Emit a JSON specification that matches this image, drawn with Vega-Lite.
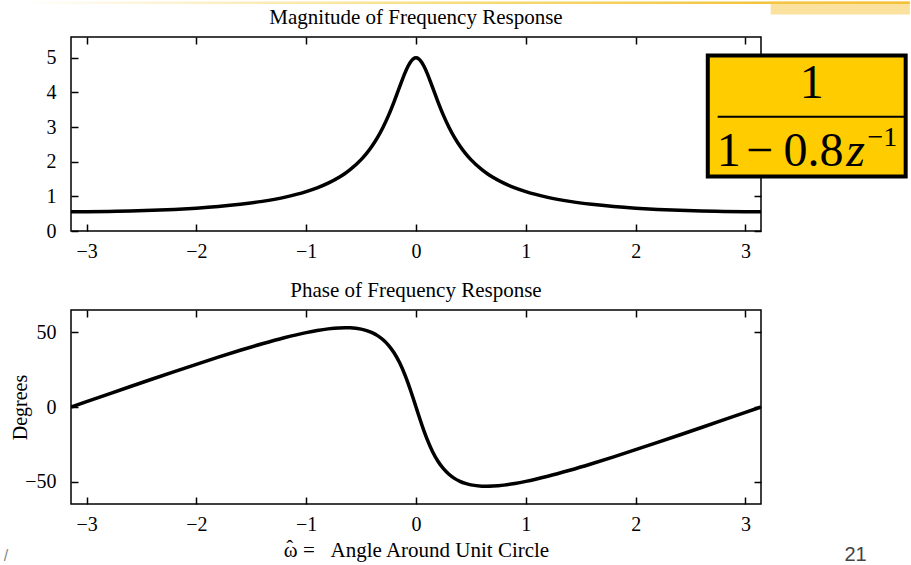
{
  "$schema": "https://vega.github.io/schema/vega-lite/v6.json",
  "background": "white",
  "padding": {"left": 2, "top": 0, "right": 0, "bottom": 0},
  "spacing": 17,
  "config": {
    "font": "Liberation Serif",
    "view": {"stroke": "black", "strokeWidth": 1.5},
    "axis": {
      "domain": false, "grid": false, "ticks": true,
      "tickColor": "black", "tickSize": 7, "tickWidth": 1.5, "offset": -7,
      "labelFont": "Liberation Serif", "labelFontSize": 20, "labelColor": "black",
      "labelFlush": false, "labelOverlap": false,
      "titleFont": "Liberation Serif", "titleFontSize": 20, "titleFontWeight": "normal", "titleColor": "black"
    },
    "axisX": {"labelPadding": 10},
    "axisY": {"labelPadding": 15},
    "title": {"font": "Liberation Serif", "fontSize": 21, "fontWeight": "normal", "color": "black", "anchor": "middle", "frame": "group", "offset": 10}
  },
  "data": {"values": [
    {"w": -3.14159, "mag": 0.5556, "phase": 0},
    {"w": -3.0, "mag": 0.5569, "phase": 3.61},
    {"w": -2.8, "mag": 0.5637, "phase": 8.69},
    {"w": -2.6, "mag": 0.5763, "phase": 13.75},
    {"w": -2.4, "mag": 0.5955, "phase": 18.77},
    {"w": -2.2, "mag": 0.6224, "phase": 23.74},
    {"w": -2.0, "mag": 0.6585, "phase": 28.62},
    {"w": -1.8, "mag": 0.7065, "phase": 33.39},
    {"w": -1.6, "mag": 0.77, "phase": 38.0},
    {"w": -1.4, "mag": 0.855, "phase": 42.37},
    {"w": -1.2, "mag": 0.9712, "phase": 46.4},
    {"w": -1.0, "mag": 1.1356, "phase": 49.86},
    {"w": -0.9, "mag": 1.2447, "phase": 51.26},
    {"w": -0.8, "mag": 1.3798, "phase": 52.36},
    {"w": -0.7, "mag": 1.55, "phase": 53.02},
    {"w": -0.6435, "mag": 1.6667, "phase": 53.13},
    {"w": -0.6, "mag": 1.7693, "phase": 53.05},
    {"w": -0.5, "mag": 2.059, "phase": 52.16},
    {"w": -0.45, "mag": 2.2401, "phase": 51.22},
    {"w": -0.4, "mag": 2.4522, "phase": 49.81},
    {"w": -0.35, "mag": 2.7017, "phase": 47.83},
    {"w": -0.3, "mag": 2.9953, "phase": 45.08},
    {"w": -0.25, "mag": 3.3382, "phase": 41.35},
    {"w": -0.2, "mag": 3.7295, "phase": 36.35},
    {"w": -0.15, "mag": 4.1535, "phase": 29.77},
    {"w": -0.1, "mag": 4.5647, "phase": 21.38},
    {"w": -0.075, "mag": 4.7405, "phase": 16.51},
    {"w": -0.05, "mag": 4.8795, "phase": 11.25},
    {"w": -0.025, "mag": 4.969, "phase": 5.7},
    {"w": 0, "mag": 5.0, "phase": 0},
    {"w": 0.025, "mag": 4.969, "phase": -5.7},
    {"w": 0.05, "mag": 4.8795, "phase": -11.25},
    {"w": 0.075, "mag": 4.7405, "phase": -16.51},
    {"w": 0.1, "mag": 4.5647, "phase": -21.38},
    {"w": 0.15, "mag": 4.1535, "phase": -29.77},
    {"w": 0.2, "mag": 3.7295, "phase": -36.35},
    {"w": 0.25, "mag": 3.3382, "phase": -41.35},
    {"w": 0.3, "mag": 2.9953, "phase": -45.08},
    {"w": 0.35, "mag": 2.7017, "phase": -47.83},
    {"w": 0.4, "mag": 2.4522, "phase": -49.81},
    {"w": 0.45, "mag": 2.2401, "phase": -51.22},
    {"w": 0.5, "mag": 2.059, "phase": -52.16},
    {"w": 0.6, "mag": 1.7693, "phase": -53.05},
    {"w": 0.6435, "mag": 1.6667, "phase": -53.13},
    {"w": 0.7, "mag": 1.55, "phase": -53.02},
    {"w": 0.8, "mag": 1.3798, "phase": -52.36},
    {"w": 0.9, "mag": 1.2447, "phase": -51.26},
    {"w": 1.0, "mag": 1.1356, "phase": -49.86},
    {"w": 1.2, "mag": 0.9712, "phase": -46.4},
    {"w": 1.4, "mag": 0.855, "phase": -42.37},
    {"w": 1.6, "mag": 0.77, "phase": -38.0},
    {"w": 1.8, "mag": 0.7065, "phase": -33.39},
    {"w": 2.0, "mag": 0.6585, "phase": -28.62},
    {"w": 2.2, "mag": 0.6224, "phase": -23.74},
    {"w": 2.4, "mag": 0.5955, "phase": -18.77},
    {"w": 2.6, "mag": 0.5763, "phase": -13.75},
    {"w": 2.8, "mag": 0.5637, "phase": -8.69},
    {"w": 3.0, "mag": 0.5569, "phase": -3.61},
    {"w": 3.14159, "mag": 0.5556, "phase": 0}
  ]},
  "vconcat": [
    {
      "width": 690, "height": 194,
      "title": {"text": "Magnitude of Frequency Response", "offset": -26.5},
      "resolve": {"axis": {"x": "independent", "y": "independent"}},
      "layer": [
        {
          "mark": {"type": "line", "color": "black", "strokeWidth": 3.5, "interpolate": "monotone", "clip": true},
          "encoding": {
            "x": {"field": "w", "type": "quantitative", "scale": {"domain": [-3.14159, 3.14159], "nice": false, "zero": false}, "axis": {"orient": "bottom", "values": [-3, -2, -1, 0, 1, 2, 3], "title": null}},
            "y": {"field": "mag", "type": "quantitative", "scale": {"domain": [0, 5.6], "nice": false}, "axis": {"orient": "left", "values": [0, 1, 2, 3, 4, 5], "title": null}}
          }
        },
        {
          "mark": {"type": "line", "strokeOpacity": 0},
          "encoding": {
            "x": {"field": "w", "type": "quantitative", "scale": {"domain": [-3.14159, 3.14159], "nice": false, "zero": false}, "axis": {"orient": "top", "values": [-3, -2, -1, 0, 1, 2, 3], "labels": false, "title": null}},
            "y": {"field": "mag", "type": "quantitative", "scale": {"domain": [0, 5.6], "nice": false}, "axis": {"orient": "right", "values": [0, 1, 2, 3, 4, 5], "labels": false, "title": null}}
          }
        },
        {
          "data": {"values": [{}]},
          "mark": {"type": "rect", "clip": false, "fill": {"gradient": "linear", "x1": 0, "x2": 1, "y1": 0, "y2": 0, "stops": [{"offset": 0, "color": "#ffffff"}, {"offset": 0.5, "color": "#f7dc7a"}, {"offset": 1, "color": "#f0b820"}]}},
          "encoding": {
            "x": {"datum": -3.62, "type": "quantitative", "scale": {"domain": [-3.14159, 3.14159]}, "axis": null},
            "x2": {"datum": 4.497},
            "y": {"datum": 6.625, "type": "quantitative", "scale": {"domain": [0, 5.6]}, "axis": null},
            "y2": {"datum": 6.555}
          }
        },
        {
          "data": {"values": [{}]},
          "mark": {"type": "rect", "clip": false, "fill": "#f5c94e", "opacity": 0.55},
          "encoding": {
            "x": {"datum": 3.23, "type": "quantitative", "scale": {"domain": [-3.14159, 3.14159]}, "axis": null},
            "x2": {"datum": 4.497},
            "y": {"datum": 6.625, "type": "quantitative", "scale": {"domain": [0, 5.6]}, "axis": null},
            "y2": {"datum": 6.25}
          }
        },
        {
          "data": {"values": [{}]},
          "mark": {"type": "rect", "clip": false, "fill": "#ffcc00", "stroke": "black", "strokeWidth": 4},
          "encoding": {
            "x": {"datum": 2.657, "type": "quantitative", "scale": {"domain": [-3.14159, 3.14159]}, "axis": null},
            "x2": {"datum": 4.459},
            "y": {"datum": 5.066, "type": "quantitative", "scale": {"domain": [0, 5.6]}, "axis": null},
            "y2": {"datum": 1.573}
          }
        },
        {
          "data": {"values": [{}]},
          "mark": {"type": "rule", "clip": false, "color": "black", "strokeWidth": 2},
          "encoding": {
            "x": {"datum": 2.747, "type": "quantitative", "scale": {"domain": [-3.14159, 3.14159]}, "axis": null},
            "x2": {"datum": 4.459},
            "y": {"datum": 3.296, "type": "quantitative", "scale": {"domain": [0, 5.6]}, "axis": null}
          }
        },
        {
          "data": {"values": [
            {"t": "1", "px": 3.604, "py": 3.825},
            {"t": "1", "px": 2.848, "py": 1.862},
            {"t": "\u2212", "px": 3.129, "py": 1.862},
            {"t": "0.8", "px": 3.62, "py": 1.862}
          ]},
          "mark": {"type": "text", "clip": false, "font": "Liberation Serif", "fontSize": 48, "color": "black", "align": "center", "baseline": "alphabetic"},
          "encoding": {
            "text": {"field": "t"},
            "x": {"field": "px", "type": "quantitative", "scale": {"domain": [-3.14159, 3.14159]}, "axis": null},
            "y": {"field": "py", "type": "quantitative", "scale": {"domain": [0, 5.6]}, "axis": null}
          }
        },
        {
          "data": {"values": [{"t": "z", "px": 4.003, "py": 1.862}]},
          "mark": {"type": "text", "clip": false, "font": "Liberation Serif", "fontSize": 48, "fontStyle": "italic", "color": "black", "align": "center", "baseline": "alphabetic"},
          "encoding": {
            "text": {"field": "t"},
            "x": {"field": "px", "type": "quantitative", "scale": {"domain": [-3.14159, 3.14159]}, "axis": null},
            "y": {"field": "py", "type": "quantitative", "scale": {"domain": [0, 5.6]}, "axis": null}
          }
        },
        {
          "data": {"values": [{"t": "\u22121", "px": 4.246, "py": 2.468}]},
          "mark": {"type": "text", "clip": false, "font": "Liberation Serif", "fontSize": 28, "color": "black", "align": "center", "baseline": "alphabetic"},
          "encoding": {
            "text": {"field": "t"},
            "x": {"field": "px", "type": "quantitative", "scale": {"domain": [-3.14159, 3.14159]}, "axis": null},
            "y": {"field": "py", "type": "quantitative", "scale": {"domain": [0, 5.6]}, "axis": null}
          }
        }
      ]
    },
    {
      "width": 690, "height": 194,
      "title": {"text": "Phase of Frequency Response", "offset": 8},
      "resolve": {"axis": {"x": "independent", "y": "independent"}},
      "layer": [
        {
          "mark": {"type": "line", "color": "black", "strokeWidth": 3.5, "interpolate": "monotone", "clip": true},
          "encoding": {
            "x": {"field": "w", "type": "quantitative", "scale": {"domain": [-3.14159, 3.14159], "nice": false, "zero": false}, "axis": {"orient": "bottom", "values": [-3, -2, -1, 0, 1, 2, 3], "title": "\u03c9 =\u00a0\u00a0\u00a0Angle Around Unit Circle", "titleFontSize": 21, "titlePadding": 5}},
            "y": {"field": "phase", "type": "quantitative", "scale": {"domain": [-65, 65], "nice": false, "zero": false}, "axis": {"orient": "left", "values": [-50, 0, 50], "title": "Degrees", "titlePadding": -6}}
          }
        },
        {
          "mark": {"type": "line", "strokeOpacity": 0},
          "encoding": {
            "x": {"field": "w", "type": "quantitative", "scale": {"domain": [-3.14159, 3.14159], "nice": false, "zero": false}, "axis": {"orient": "top", "values": [-3, -2, -1, 0, 1, 2, 3], "labels": false, "title": null}},
            "y": {"field": "phase", "type": "quantitative", "scale": {"domain": [-65, 65], "nice": false, "zero": false}, "axis": {"orient": "right", "values": [-50, 0, 50], "labels": false, "title": null}}
          }
        },
        {
          "data": {"values": [{"t": "\u02c6", "px": -1.15, "py": -99.5}]},
          "mark": {"type": "text", "clip": false, "font": "Liberation Serif", "fontSize": 21, "color": "black", "align": "center", "baseline": "alphabetic"},
          "encoding": {
            "text": {"field": "t"},
            "x": {"field": "px", "type": "quantitative", "scale": {"domain": [-3.14159, 3.14159]}, "axis": null},
            "y": {"field": "py", "type": "quantitative", "scale": {"domain": [-65, 65]}, "axis": null}
          }
        },
        {
          "data": {"values": [{"t": "21", "px": 4.003, "py": -103}]},
          "mark": {"type": "text", "clip": false, "font": "Liberation Sans", "fontSize": 20, "color": "#444444", "align": "center", "baseline": "alphabetic"},
          "encoding": {
            "text": {"field": "t"},
            "x": {"field": "px", "type": "quantitative", "scale": {"domain": [-3.14159, 3.14159]}, "axis": null},
            "y": {"field": "py", "type": "quantitative", "scale": {"domain": [-65, 65]}, "axis": null}
          }
        },
        {
          "data": {"values": [{"t": "/", "px": -3.755, "py": -103}]},
          "mark": {"type": "text", "clip": false, "font": "Liberation Sans", "fontSize": 16, "color": "#888888", "align": "left", "baseline": "alphabetic"},
          "encoding": {
            "text": {"field": "t"},
            "x": {"field": "px", "type": "quantitative", "scale": {"domain": [-3.14159, 3.14159]}, "axis": null},
            "y": {"field": "py", "type": "quantitative", "scale": {"domain": [-65, 65]}, "axis": null}
          }
        }
      ]
    }
  ]
}
